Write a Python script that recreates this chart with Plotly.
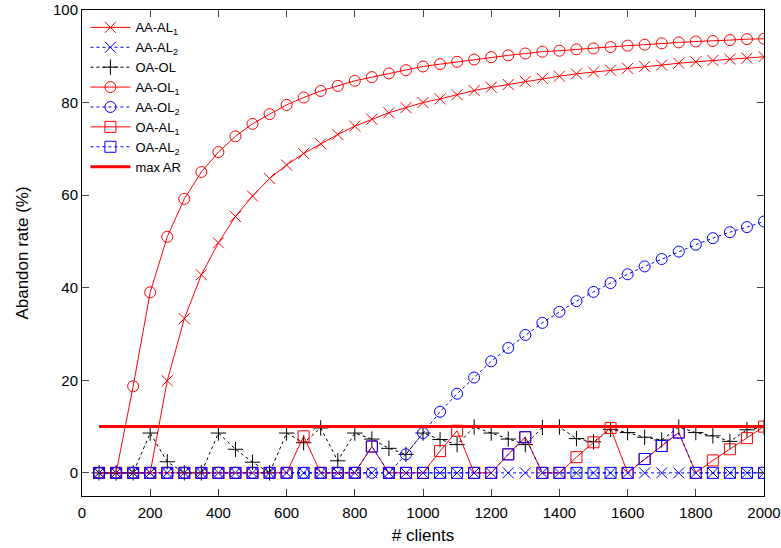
import plotly.graph_objects as go

clients = list(range(50, 2001, 50))

aa_al1 = [0, 0, 0, 0, 19.9, 33.3, 42.8, 49.7, 55.4, 59.8, 63.6, 66.5, 69.0, 71.1, 73.1, 74.9,
          76.4, 77.8, 78.9, 80.0, 80.8, 81.7, 82.6, 83.3, 83.9, 84.6, 85.2, 85.7, 86.2, 86.6,
          87.0, 87.4, 87.8, 88.1, 88.5, 88.8, 89.1, 89.4, 89.6, 89.9]
aa_al2 = [0] * 40
oa_ol = [0, 0, 0, 8.6, 2.4, 0, 0, 8.6, 5.1, 2.3, 0, 8.6, 6.5, 9.7, 2.6, 8.6, 7.3, 5.3, 4.0, 8.6,
         7.2, 6.1, 9.9, 8.6, 7.3, 6.1, 9.8, 9.9, 7.4, 6.7, 9.4, 8.7, 7.7, 7.1, 9.9, 8.7, 8.0, 6.8,
         9.3, 9.9]
aa_ol1 = [0, 0, 18.7, 39.0, 51.0, 59.2, 65.0, 69.3, 72.7, 75.4, 77.5, 79.5, 81.1, 82.5, 83.6,
          84.7, 85.5, 86.3, 87.0, 87.8, 88.3, 88.8, 89.3, 89.8, 90.2, 90.6, 91.0, 91.2, 91.5,
          91.7, 92.0, 92.3, 92.5, 92.8, 93.0, 93.2, 93.3, 93.5, 93.7, 93.8]
aa_ol2 = [0, 0, 0, 0, 0, 0, 0, 0, 0, 0, 0, 0, 0, 0, 0, 0, 0, 0, 4.0, 8.6, 13.2, 17.1, 20.6,
          24.1, 27.0, 29.8, 32.4, 34.8, 37.1, 39.1, 41.0, 42.9, 44.6, 46.2, 47.8, 49.3, 50.7,
          52.0, 53.1, 54.3]
oa_al1 = [0, 0, 0, 0, 0, 0, 0, 0, 0, 0, 0, 0, 7.9, 0, 0, 0, 5.7, 0, 0, 0, 4.7, 9.1, 0, 0, 4.0,
          7.7, 0, 0, 3.4, 6.6, 9.7, 0, 3.0, 5.8, 8.7, 0, 2.7, 5.1, 7.5, 10.0]
oa_al2 = [0, 0, 0, 0, 0, 0, 0, 0, 0, 0, 0, 0, 0, 0, 0, 0, 5.7, 0, 0, 0, 0, 0, 0, 0, 4.0,
          7.7, 0, 0, 0, 0, 0, 0, 3.0, 5.8, 8.7, 0, 0, 0, 0, 0]
max_ar = [10] * 40

RED = "#ff0000"
BLUE = "#0000ff"
BLACK = "#000000"

series = [
    ("AA-AL<sub>1</sub>", aa_al1, RED, "solid", "x-thin-open"),
    ("AA-AL<sub>2</sub>", aa_al2, BLUE, "dot", "x-thin-open"),
    ("OA-OL", oa_ol, BLACK, "dot", "cross-thin-open"),
    ("AA-OL<sub>1</sub>", aa_ol1, RED, "solid", "circle-open"),
    ("AA-OL<sub>2</sub>", aa_ol2, BLUE, "dot", "circle-open"),
    ("OA-AL<sub>1</sub>", oa_al1, RED, "solid", "square-open"),
    ("OA-AL<sub>2</sub>", oa_al2, BLUE, "dot", "square-open"),
]

fig = go.Figure()
for name, vals, col, dash, sym in series:
    fig.add_trace(go.Scatter(
        x=clients, y=vals, name=name, mode="lines+markers",
        line=dict(color=col, width=1, dash=dash),
        marker=dict(symbol=sym, size=11, color=col, line=dict(color=col, width=1)),
    ))
fig.add_trace(go.Scatter(
    x=clients, y=max_ar, name="max AR", mode="lines",
    line=dict(color=RED, width=3),
))

FONT = "Liberation Sans, Arial, sans-serif"
fig.update_layout(
    width=781, height=548,
    margin=dict(l=82, r=17, t=10, b=52),
    paper_bgcolor="white", plot_bgcolor="white",
    font=dict(family=FONT, size=14, color="black"),
    showlegend=True,
    legend=dict(x=0.005, y=0.995, xanchor="left", yanchor="top",
                bgcolor="rgba(0,0,0,0)", font=dict(size=13),
                tracegroupgap=0, itemwidth=40),
    xaxis=dict(range=[0, 2000], tick0=0, dtick=200, ticks="inside", ticklen=7,
               showline=True, linecolor="black", linewidth=1, mirror="ticks",
               showgrid=False, zeroline=False, ticklabelstandoff=3, automargin=False,
               tickfont=dict(size=15),
               title=dict(text="# clients", standoff=9)),
    yaxis=dict(range=[-5, 100], tick0=0, dtick=20, ticks="inside", ticklen=7,
               showline=True, linecolor="black", linewidth=1, mirror="ticks",
               showgrid=False, zeroline=False, automargin=False,
               tickfont=dict(size=15),
               title=dict(text="Abandon rate (%)", standoff=20)),
)

fig.write_html("out.html", config={"displayModeBar": False},
               post_script="document.body.style.margin='0';")
